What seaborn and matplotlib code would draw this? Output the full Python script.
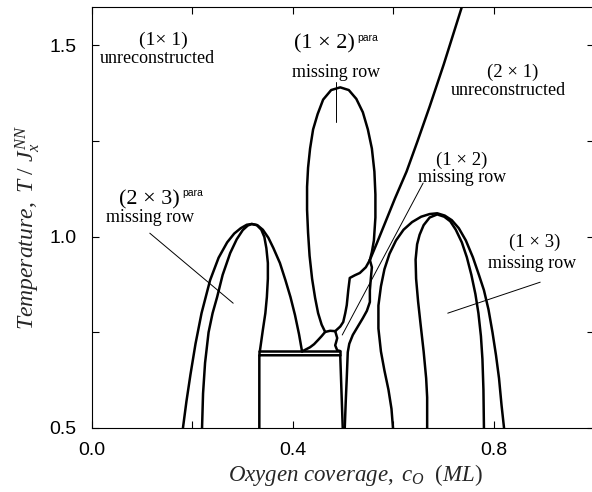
import pandas as pd
import seaborn as sns
import matplotlib.pyplot as plt
from matplotlib.ticker import FixedLocator

# Phase boundaries (coverage c_O, temperature T/J)
dome23_outer_x = [0.181, 0.188, 0.196, 0.206, 0.218, 0.235, 0.252, 0.269, 0.283, 0.296, 0.308,
                  0.318, 0.329, 0.340, 0.351, 0.361, 0.374, 0.385, 0.395, 0.404, 0.412, 0.418]
dome23_outer_y = [0.50, 0.57, 0.64, 0.72, 0.80, 0.886, 0.945, 0.985, 1.008, 1.022, 1.031,
                  1.033, 1.030, 1.018, 0.997, 0.970, 0.931, 0.886, 0.842, 0.795, 0.745, 0.700]
dome23_inner_x = [0.219, 0.221, 0.225, 0.232, 0.240, 0.249, 0.260, 0.275, 0.288, 0.300, 0.310,
                  0.318, 0.328, 0.337, 0.343, 0.347, 0.350, 0.350, 0.348, 0.345, 0.340, 0.334]
dome23_inner_y = [0.50, 0.59, 0.67, 0.75, 0.80, 0.842, 0.90, 0.957, 0.993, 1.017, 1.029,
                  1.033, 1.030, 1.018, 0.999, 0.970, 0.931, 0.890, 0.842, 0.800, 0.756, 0.700]

box_x = [0.333, 0.333, 0.494, 0.499]
box_y = [0.50, 0.690, 0.690, 0.50]
box_top_x = [0.333, 0.333, 0.494, 0.494]
box_top_y = [0.690, 0.701, 0.701, 0.690]

ellipse_x = [0.464, 0.457, 0.450, 0.444, 0.438, 0.433, 0.430, 0.428, 0.428, 0.430, 0.434,
             0.440, 0.449, 0.460, 0.476, 0.494, 0.511, 0.526, 0.539, 0.549, 0.557, 0.562,
             0.564, 0.564, 0.561, 0.557, 0.553]
ellipse_y = [0.751, 0.770, 0.800, 0.840, 0.890, 0.950, 1.010, 1.070, 1.130, 1.180, 1.230,
             1.280, 1.320, 1.358, 1.383, 1.390, 1.383, 1.360, 1.325, 1.280, 1.230, 1.170,
             1.110, 1.050, 0.990, 0.960, 0.939]

boundary21_x = [0.736, 0.700, 0.672, 0.648, 0.626, 0.603, 0.583, 0.566, 0.553]
boundary21_y = [1.600, 1.450, 1.340, 1.250, 1.170, 1.100, 1.035, 0.980, 0.939]

j1_dome_x = [0.464, 0.457, 0.450, 0.442, 0.434, 0.418]
j1_dome_y = [0.751, 0.740, 0.730, 0.719, 0.711, 0.700]
j1_j2_x = [0.464, 0.474, 0.484]
j1_j2_y = [0.751, 0.754, 0.753]
j2_loop_x = [0.484, 0.488, 0.486, 0.484, 0.488, 0.494]
j2_loop_y = [0.753, 0.735, 0.725, 0.716, 0.703, 0.701]
j2_j3_x = [0.484, 0.494, 0.500, 0.504, 0.507, 0.510, 0.513, 0.523, 0.533, 0.545, 0.553]
j2_j3_y = [0.753, 0.765, 0.777, 0.800, 0.821, 0.860, 0.892, 0.899, 0.905, 0.920, 0.939]
j3_down_x = [0.553, 0.557, 0.555, 0.553, 0.553, 0.547, 0.539, 0.529, 0.519, 0.512, 0.509,
             0.507, 0.505, 0.503]
j3_down_y = [0.939, 0.920, 0.892, 0.860, 0.829, 0.806, 0.787, 0.765, 0.743, 0.720, 0.698,
             0.631, 0.570, 0.500]

dome13_outer_x = [0.599, 0.596, 0.590, 0.582, 0.575, 0.570, 0.570, 0.575, 0.582, 0.592, 0.605,
                  0.620, 0.637, 0.655, 0.672, 0.687, 0.702, 0.716, 0.730, 0.744, 0.758, 0.770,
                  0.780, 0.789, 0.797, 0.804, 0.810, 0.815, 0.820]
dome13_outer_y = [0.50, 0.55, 0.60, 0.65, 0.70, 0.76, 0.82, 0.87, 0.915, 0.955, 0.990,
                  1.018, 1.038, 1.052, 1.059, 1.061, 1.055, 1.043, 1.022, 0.990, 0.946, 0.900,
                  0.860, 0.810, 0.750, 0.690, 0.630, 0.560, 0.50]
dome13_inner_x = [0.667, 0.667, 0.665, 0.660, 0.654, 0.649, 0.645, 0.644, 0.647, 0.652, 0.660,
                  0.672, 0.687, 0.701, 0.713, 0.724, 0.736, 0.746, 0.755, 0.763, 0.769, 0.774,
                  0.777, 0.779, 0.780]
dome13_inner_y = [0.50, 0.58, 0.63, 0.70, 0.77, 0.83, 0.89, 0.94, 0.98, 1.005, 1.030,
                  1.050, 1.058, 1.052, 1.040, 1.018, 0.985, 0.946, 0.900, 0.850, 0.800, 0.740,
                  0.680, 0.600, 0.50]

# leader lines from labels to regions
leaders = {
    "23para": ([0.115, 0.281], [1.009, 0.826]),
    "12para": ([0.486, 0.486], [1.403, 1.299]),
    "12": ([0.659, 0.498], [1.140, 0.743]),
    "13": ([0.892, 0.708], [0.881, 0.800]),
}

# region labels: (text, x, y, size)
labels = [
    ("(1× 1)", 0.142, 1.512, 14),
    ("unreconstructed", 0.130, 1.466, 13),
    ("(1 × 2)", 0.462, 1.503, 16),
    ("missing row", 0.486, 1.430, 13),
    ("(2 × 1)", 0.838, 1.430, 13.5),
    ("unreconstructed", 0.828, 1.382, 13),
    ("(1 × 2)", 0.736, 1.200, 13.5),
    ("missing row", 0.737, 1.155, 13),
    ("(2 × 3)", 0.115, 1.095, 16),
    ("missing row", 0.115, 1.051, 13),
    ("(1 × 3)", 0.880, 0.986, 13.5),
    ("missing row", 0.876, 0.931, 13),
]
# small "para" superscripts: (x left, y)
para_marks = [(0.527, 1.520), (0.180, 1.114)]

curves = {
    "dome23_outer": (dome23_outer_x, dome23_outer_y),
    "dome23_inner": (dome23_inner_x, dome23_inner_y),
    "box": (box_x, box_y),
    "box_top": (box_top_x, box_top_y),
    "ellipse": (ellipse_x, ellipse_y),
    "boundary21": (boundary21_x, boundary21_y),
    "j1_dome": (j1_dome_x, j1_dome_y),
    "j1_j2": (j1_j2_x, j1_j2_y),
    "j2_loop": (j2_loop_x, j2_loop_y),
    "j2_j3": (j2_j3_x, j2_j3_y),
    "j3_down": (j3_down_x, j3_down_y),
    "dome13_outer": (dome13_outer_x, dome13_outer_y),
    "dome13_inner": (dome13_inner_x, dome13_inner_y),
}
rows = []
for name, (xs, ys) in curves.items():
    for i, (xv, yv) in enumerate(zip(xs, ys)):
        rows.append({"curve": name, "order": i, "x": xv, "y": yv})
df = pd.DataFrame(rows)

sns.set_theme(style="ticks")
plt.rcParams["font.family"] = ["Liberation Serif", "DejaVu Serif"]
plt.rcParams["mathtext.fontset"] = "custom"
plt.rcParams["mathtext.rm"] = "Liberation Serif"
plt.rcParams["mathtext.it"] = "Liberation Serif:italic"
plt.rcParams["mathtext.sf"] = "Liberation Sans"

fig = plt.figure(figsize=(5.92, 4.92), dpi=100)
ax = fig.add_axes([0.1554, 0.1301, 0.8488, 0.8557])

sns.lineplot(data=df, x="x", y="y", units="curve", estimator=None, sort=False,
             color="black", linewidth=1.8, ax=ax, legend=False)

for xs, ys in leaders.values():
    ax.plot(xs, ys, color="black", linewidth=0.7)

for txt, xv, yv, fs in labels:
    ax.text(xv, yv, txt, ha="center", va="center", fontsize=fs, color="black")
for xv, yv in para_marks:
    ax.text(xv, yv, "para", ha="left", va="center", fontsize=7.5,
            family="Liberation Sans", color="black")

ax.set_xlim(0.0, 1.0)
ax.set_ylim(0.5, 1.6)
ax.xaxis.set_major_locator(FixedLocator([0.0, 0.4, 0.8]))
ax.xaxis.set_minor_locator(FixedLocator([0.2, 0.6]))
ax.yaxis.set_major_locator(FixedLocator([0.5, 1.0, 1.5]))
ax.yaxis.set_minor_locator(FixedLocator([0.75, 1.25]))
ax.set_xticklabels(["0.0", "0.4", "0.8"], family="Liberation Sans")
ax.set_yticklabels(["0.5", "1.0", "1.5"], family="Liberation Sans")
ax.tick_params(which="both", direction="in", top=True, right=True,
               length=5, width=0.8, labelsize=14, colors="black")
ax.tick_params(axis="x", pad=10)
ax.tick_params(axis="y", pad=11)

for sp in ax.spines.values():
    sp.set_linewidth(0.8)
    sp.set_color("black")

ax.set_xlabel(r"$Oxygen\ coverage,\ c_O\ \ (ML)$", fontsize=16.5)
ax.set_ylabel(r"$Temperature,\ T\ /\ J_x^{NN}$", fontsize=17)
ax.xaxis.set_label_coords(0.525, -0.08)
ax.yaxis.set_label_coords(-0.10, 0.475)

fig.savefig("out.png", dpi=100)
